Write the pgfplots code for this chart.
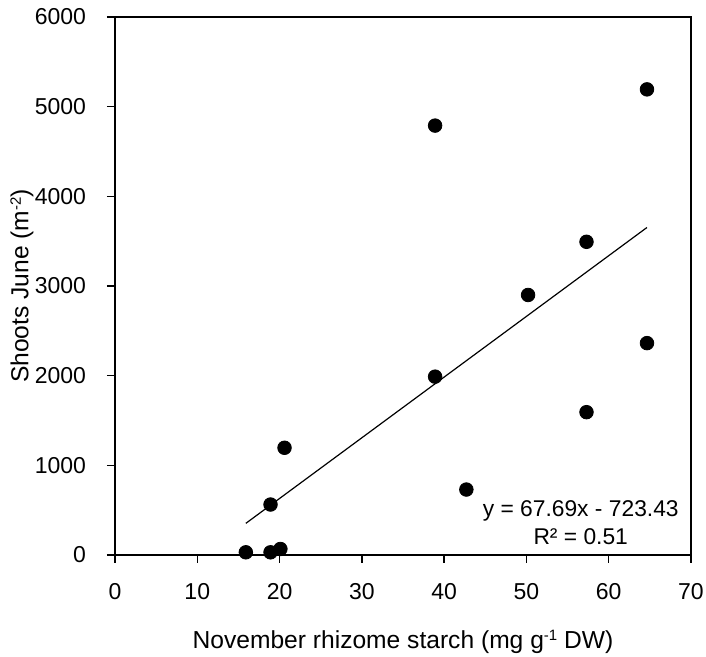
\documentclass[border=0pt]{standalone}
\usepackage{fontspec}
\setmainfont{Liberation Sans}
\usepackage{pgfplots}
\pgfplotsset{compat=1.18}
\newcommand{\unitsup}[1]{\raisebox{3.8pt}{\fontsize{7.5}{8}\selectfont#1}}

\begin{document}
\begin{tikzpicture}
\useasboundingbox (-57.5pt,-51pt) rectangle (295.5pt,277.5pt);
\begin{axis}[
    at={(0,0)}, anchor=south west,
    scale only axis,
    width=288pt, height=269pt,
    xmin=0, xmax=70, ymin=0, ymax=6000,
    xtick={0,10,...,70}, ytick={0,1000,...,6000},
    axis line style={line width=0.75pt},
    tick style={black, line width=0.7pt},
    tick align=outside, major tick length=4pt,
    xtick pos=bottom, ytick pos=left,
    /pgf/number format/assume math mode=true,
    /pgf/number format/1000 sep={},
    ticklabel style={font=\fontsize{11.5}{13}\selectfont},
    yticklabel style={xshift=-7pt},
    xticklabel style={yshift=-6.5pt},
    xlabel={November rhizome starch (mg g\unitsup{-1} DW)},
    ylabel={Shoots June (m\unitsup{-2})},
    label style={font=\fontsize{12.3}{14}\selectfont, inner sep=0pt},
    xlabel style={at={(axis description cs:0.5,-0.1729)}, anchor=base},
    ylabel style={at={(axis description cs:-0.1823,0.5)}, anchor=north},
    clip=false,
]
\addplot[only marks, mark=*, mark size=3.4pt, black] coordinates {
    (15.9,30) (18.9,30) (20.1,67) (18.9,563) (20.6,1196)
    (38.9,1989) (42.7,730) (57.3,1593) (64.65,2363)
    (50.2,2900) (57.3,3493) (38.9,4789) (64.65,5193)
};
\addplot[black, line width=0.6pt] coordinates {(15.9,352.84) (64.65,3652.73)};
\node[font=\fontsize{11.4}{13}\selectfont, align=center, inner sep=0pt] at (axis cs:56.6,360)
    {y = 67.69x - 723.43\\[1pt] R² = 0.51};
\end{axis}
\end{tikzpicture}
\end{document}
